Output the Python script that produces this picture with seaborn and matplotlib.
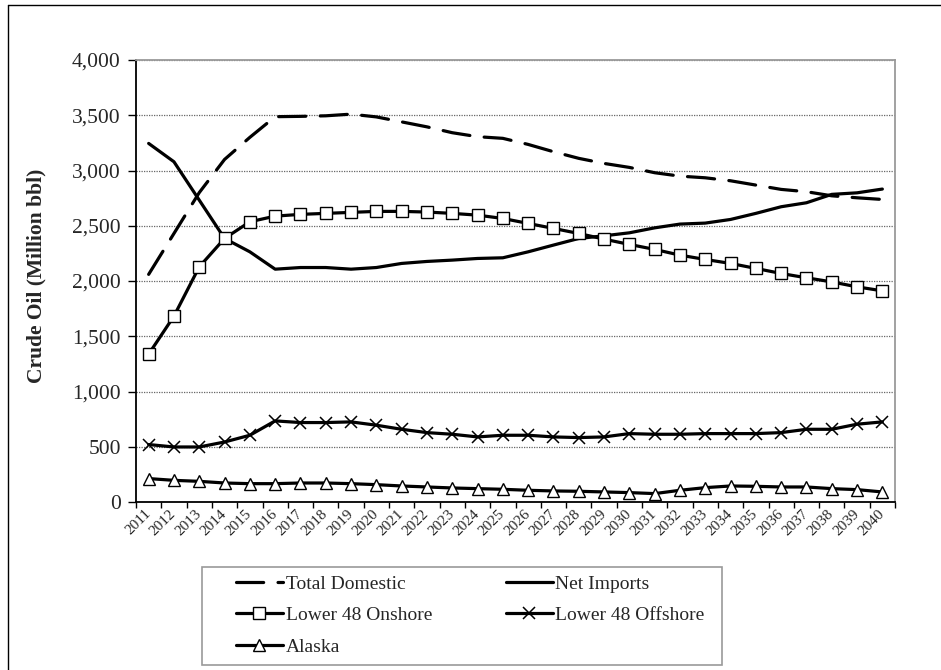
import numpy as np
import pandas as pd
import matplotlib
matplotlib.use("Agg")
import matplotlib.pyplot as plt
import seaborn as sns
from matplotlib.lines import Line2D
from matplotlib.patches import Rectangle
from matplotlib.ticker import FuncFormatter, FixedLocator

years = [str(y) for y in range(2011, 2041)]

total_domestic = [2060, 2430, 2800, 3100, 3300, 3487, 3490, 3495, 3510, 3485,
                  3440, 3395, 3342, 3306, 3291, 3236, 3170, 3110, 3064, 3028,
                  2980, 2949, 2934, 2907, 2868, 2829, 2808, 2771, 2753, 2738]
net_imports = [3245, 3079, 2732, 2385, 2264, 2107, 2122, 2122, 2107, 2122,
               2159, 2177, 2189, 2204, 2210, 2264, 2325, 2385, 2409, 2436,
               2481, 2515, 2524, 2557, 2612, 2672, 2708, 2784, 2798, 2832]
onshore = [1338, 1682, 2128, 2385, 2536, 2587, 2603, 2612, 2621, 2630,
           2630, 2624, 2612, 2596, 2566, 2521, 2476, 2430, 2379, 2331,
           2286, 2234, 2195, 2159, 2114, 2068, 2029, 1992, 1947, 1911]
offshore = [520, 498, 498, 543, 604, 734, 719, 719, 725, 695,
            658, 628, 613, 589, 604, 604, 589, 583, 589, 619,
            613, 613, 619, 619, 619, 628, 658, 658, 704, 725]
alaska = [212, 196, 187, 172, 166, 166, 172, 172, 166, 157,
          145, 136, 127, 121, 115, 106, 100, 97, 91, 85,
          76, 106, 130, 145, 142, 136, 136, 121, 112, 91]

labels = ["Total Domestic", "Net Imports", "Lower 48 Onshore",
          "Lower 48 Offshore", "Alaska"]

sns.set_style("white")
plt.rcParams['font.family'] = ['Liberation Serif', 'DejaVu Serif']

W, H = 941, 670
fig = plt.figure(figsize=(W / 100, H / 100), dpi=100)
ax = fig.add_axes([136 / W, 1 - 502 / H, (895 - 136) / W, (502 - 60) / H])

df = pd.DataFrame({"x": np.arange(len(years))})
lw = 2.3
common = dict(color="black", linewidth=lw, legend=False, ax=ax)

sns.lineplot(x=df["x"], y=total_domestic, label=labels[0],
             linestyle=(0, (8.5, 4.5)), dash_capstyle="round", **common)
sns.lineplot(x=df["x"], y=net_imports, label=labels[1], **common)
sns.lineplot(x=df["x"], y=onshore, label=labels[2], marker="s", markersize=8,
             markerfacecolor="white", markeredgecolor="black",
             markeredgewidth=1.0, **common)
sns.lineplot(x=df["x"], y=offshore, label=labels[3], marker="x", markersize=9,
             markeredgecolor="black", markeredgewidth=1.1, **common)
sns.lineplot(x=df["x"], y=alaska, label=labels[4], marker="^", markersize=8.5,
             markerfacecolor="white", markeredgecolor="black",
             markeredgewidth=1.0, **common)

ax.set_xlim(-0.5, len(years) - 0.5)
ax.set_ylim(0, 4000)
ax.set_yticks(np.arange(0, 4001, 500))
ax.yaxis.set_major_formatter(FuncFormatter(lambda v, p: f"{int(v):,}"))
ax.grid(axis="y", color="#666666", linestyle=(0, (1, 1)), linewidth=0.9)
ax.grid(axis="x", visible=False)
ax.set_axisbelow(True)

# x axis: ticks on category boundaries, labels at centers
ax.xaxis.set_major_locator(FixedLocator(np.arange(-0.5, len(years), 1.0)))
ax.xaxis.set_major_formatter(FuncFormatter(lambda v, p: ""))
ax.set_xticks(np.arange(len(years)), labels=years, minor=True)
ax.tick_params(axis="x", which="major", direction="out", length=4, width=1,
               color="black", bottom=True)
ax.tick_params(axis="x", which="minor", length=0, pad=7, labelsize=11)
for t in ax.get_xticklabels(minor=True):
    t.set_rotation(45)
    t.set_ha("right")
    t.set_va("center")
    t.set_rotation_mode("anchor")
ax.tick_params(axis="y", which="major", direction="out", length=6, width=1,
               color="black", left=True, labelsize=15.5, pad=5)

for s in ["left", "bottom"]:
    ax.spines[s].set_color("black")
    ax.spines[s].set_linewidth(1.3)
for s in ["top", "right"]:
    ax.spines[s].set_color("#9a9a9a")
    ax.spines[s].set_linewidth(1.3)

ax.set_xlabel("")
ax.set_ylabel("")
fig.text(36.7 / W, 1 - 276 / H, "Crude Oil (Million bbl)", rotation=90,
         ha="center", va="center", fontsize=15.5, fontweight="bold")

# legend (row-major order in 2 columns)
handles, labs = ax.get_legend_handles_labels()
hmap = dict(zip(labs, handles))
order = [labels[0], labels[2], labels[4], labels[1], labels[3]]
leg = fig.legend([hmap[l] for l in order], order, ncol=2,
                 loc="upper left", bbox_to_anchor=(236 / W, 1 - 575 / H),
                 frameon=False, fontsize=14, handlelength=2.4,
                 handletextpad=0.15, columnspacing=3.8, labelspacing=0.72,
                 borderpad=0, borderaxespad=0, numpoints=1)
fig.patches.append(Rectangle((202 / W, 1 - 665 / H), 520 / W, 98 / H,
                             transform=fig.transFigure, fill=False,
                             edgecolor="#9a9a9a", linewidth=1.2))

# outer border (left and top edges visible)
fig.add_artist(Line2D([7.5 / W, 7.5 / W], [0, 1 - 4.5 / H],
                      transform=fig.transFigure, color="black", linewidth=1))
fig.add_artist(Line2D([7.5 / W, 1], [1 - 4.5 / H, 1 - 4.5 / H],
                      transform=fig.transFigure, color="black", linewidth=1))

fig.savefig("out.png", dpi=100)
